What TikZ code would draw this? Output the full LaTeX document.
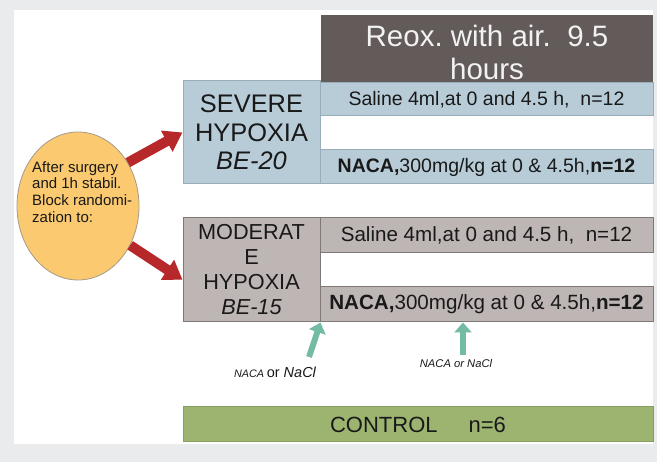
\documentclass[tikz,border=0pt]{standalone}
\usepackage{fontspec}
\setmainfont{Liberation Sans}
\usetikzlibrary{arrows.meta,shapes.geometric}
\frenchspacing
\definecolor{bgc}{HTML}{E9EBED}
\definecolor{darkc}{HTML}{635B59}
\definecolor{lighttxt}{HTML}{F2F2F2}
\definecolor{bluec}{HTML}{B8CCD8}
\definecolor{blueb}{HTML}{98ACB9}
\definecolor{grayc}{HTML}{BEB6B4}
\definecolor{grayb}{HTML}{7E7876}
\definecolor{greenc}{HTML}{9CB46F}
\definecolor{greenb}{HTML}{879E5E}
\definecolor{orangec}{HTML}{FBC96F}
\definecolor{orangeb}{HTML}{A8998A}
\definecolor{redc}{HTML}{B7282B}
\definecolor{tealc}{HTML}{74BBA3}
\newcommand\setfs[2]{\fontsize{#1}{#2}\selectfont}
\begin{document}
\begin{tikzpicture}[x=1pt,y=-1pt,
  box/.style={draw, line width=1pt, inner sep=0pt, align=center, text=black!90},
  bluebox/.style={box, fill=bluec, draw=blueb},
  graybox/.style={box, fill=grayc, draw=grayb},
  redarrow/.style={draw=redc, line width=10pt, -{Triangle[width=23pt,length=18pt]}},
  tealarrow/.style={draw=tealc, line width=6pt, -{Triangle[width=17pt,length=10pt]}},
  smalllab/.style={inner sep=0pt, text=black!90}]
\useasboundingbox (0,0) rectangle (657,462);
\fill[bgc] (0,0) rectangle (657,462);
\fill[white] (14,10) rectangle (653,444);

% header
\node[fill=darkc, inner sep=0pt, minimum width=332pt, minimum height=68pt] (hdr) at (487,49) {};
\node[inner sep=0pt, align=center, text=lighttxt, font=\setfs{29.5}{33}] (hdrtxt) at (487,52) {Reox. with air.~~9.5\\hours};

% severe group
\node[bluebox, minimum width=137pt, minimum height=103pt, font=\setfs{25.4}{28.5}] (sev) at (251.5,132.5) {SEVERE\\HYPOXIA\\\textit{BE-20}};
\node[bluebox, minimum width=333pt, minimum height=33pt, font=\setfs{19.5}{22}] (ssal) at (486.5,99.5) {Saline 4ml,at 0 and 4.5 h,~~n=12};
\node[bluebox, minimum width=333pt, minimum height=34pt, font=\setfs{19.5}{22}] (snaca) at (486.5,167) {\textbf{NACA,}300mg/kg at 0 \& 4.5h,\textbf{n=12}};

% moderate group
\node[graybox, minimum width=137pt, minimum height=104pt, font=\setfs{21.7}{25}] (mod) at (251.5,270) {MODERAT\\E\\HYPOXIA\\\textit{BE-15}};
\node[graybox, minimum width=333pt, minimum height=35pt, font=\setfs{20.6}{23}] (msal) at (486.5,235.5) {Saline 4ml,at 0 and 4.5 h,~~n=12};
\node[graybox, minimum width=333pt, minimum height=35pt, font=\setfs{20.6}{23}] (mnaca) at (486.5,304.5) {\textbf{NACA,}300mg/kg at 0 \& 4.5h,\textbf{n=12}};

% control
\node[box, fill=greenc, draw=greenb, minimum width=470pt, minimum height=35pt, font=\setfs{22}{25}] (ctrl) at (418,424.5) {CONTROL\hspace{31pt}n=6};

% ellipse
\node[ellipse, draw=orangeb, line width=0.8pt, fill=orangec, inner sep=0pt, minimum width=122pt, minimum height=148pt] (el) at (78,206) {};
\node[inner sep=0pt, align=left, anchor=north west, text=black!90, font=\setfs{15}{16.8}] (eltxt) at (32,161) {After surgery\\and 1h stabil.\\Block randomi-\\zation to:};

% red arrows
\draw[redarrow] (el.41) -- (sev.west);
\draw[redarrow] (el.-37) -- (mod.188);

% teal arrows and labels
\node[smalllab] (lab1) at (275,372) {{\setfs{10.8}{12}\itshape NACA} {\setfs{14.5}{16}or \itshape NaCl}};
\node[smalllab, font=\setfs{11.2}{13}\itshape] (lab2) at (456,363) {NACA or NaCl};
\coordinate (t1) at (309,357);
\coordinate (t2) at (463,355);
\draw[tealarrow] (t1) -- (mod.south east);
\draw[tealarrow] (t2) -- (t2 |- mnaca.south);
\end{tikzpicture}
\end{document}
